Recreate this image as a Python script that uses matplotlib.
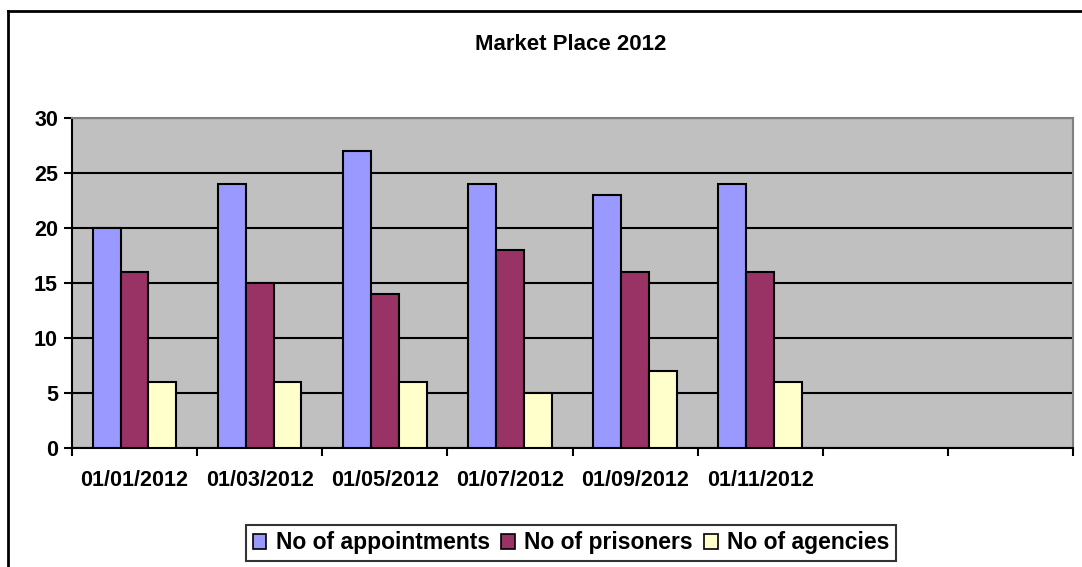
import numpy as np
import matplotlib.pyplot as plt
from matplotlib.lines import Line2D
from matplotlib.patches import Patch

plt.rcParams['font.family'] = ['Liberation Sans', 'DejaVu Sans']
plt.rcParams['font.weight'] = 'bold'

# datos
fechas = ['01/01/2012', '01/03/2012', '01/05/2012', '01/07/2012',
          '01/09/2012', '01/11/2012', '', '']
citas = [20, 24, 27, 24, 23, 24]
presos = [16, 15, 14, 18, 16, 16]
agencias = [6, 6, 6, 5, 7, 6]
series = ['No of appointments', 'No of prisoners', 'No of agencies']
colores = ['#9999FF', '#993366', '#FFFFCC']

W, H = 1082, 567
fig = plt.figure(figsize=(W/100, H/100), dpi=100)
ax = fig.add_axes([72/W, 1 - 448/H, (1073-72)/W, (448-118)/H])
ax.set_facecolor('#C0C0C0')

n = len(fechas)
x = np.arange(n)
ancho = 1/4.5
for i, (vals, c) in enumerate(zip([citas, presos, agencias], colores)):
    xs = np.arange(len(vals)) + (i - 1)*ancho
    ax.bar(xs, vals, ancho, color=c, edgecolor='black', linewidth=1.5, zorder=3)

ax.set_xlim(-0.5, n - 0.5)
ax.set_ylim(0, 30)
ax.set_yticks(range(0, 31, 5))
ax.yaxis.grid(True, color='black', linewidth=1.5, zorder=1)
ax.set_axisbelow(True)

ax.set_xticks(x)
ax.set_xticklabels(fechas, fontsize=15.5, fontweight='bold')
ax.set_xticks(np.arange(n + 1) - 0.5, minor=True)
ax.tick_params(axis='x', which='major', length=0, pad=15.5)
ax.tick_params(axis='x', which='minor', length=6, width=1.5, direction='out')
ax.tick_params(axis='y', length=6, width=1.5, labelsize=15.5, pad=4)
for t in ax.get_yticklabels():
    t.set_fontweight('bold')

ax.spines['left'].set_linewidth(1.5)
ax.spines['bottom'].set_linewidth(1.5)
ax.spines['top'].set_color('#808080')
ax.spines['right'].set_color('#808080')
ax.spines['top'].set_linewidth(1.5)
ax.spines['right'].set_linewidth(1.5)

fig.text(571/W, 1 - 45/H, 'Market Place 2012', ha='center', va='center',
         fontsize=16, fontweight='bold')

handles = [Patch(facecolor=c, edgecolor='black', linewidth=1.2) for c in colores]
leg = fig.legend(handles, series, loc='center', bbox_to_anchor=(571/W, 1 - 543/H),
                 ncol=3, fontsize=16.5, frameon=True, fancybox=False,
                 handlelength=0.6, handleheight=0.6, handletextpad=0.4,
                 columnspacing=0.5, borderpad=0.3, borderaxespad=0)
leg.get_frame().set_edgecolor('black')
leg.get_frame().set_linewidth(1.5)

# marco exterior
fig.add_artist(Line2D([8/W, 8/W], [0, 1 - 11/H], color='black', linewidth=2,
                      transform=fig.transFigure))
fig.add_artist(Line2D([8/W, 1], [1 - 11/H, 1 - 11/H], color='black', linewidth=2,
                      transform=fig.transFigure))

fig.savefig('out.png', dpi=100)
